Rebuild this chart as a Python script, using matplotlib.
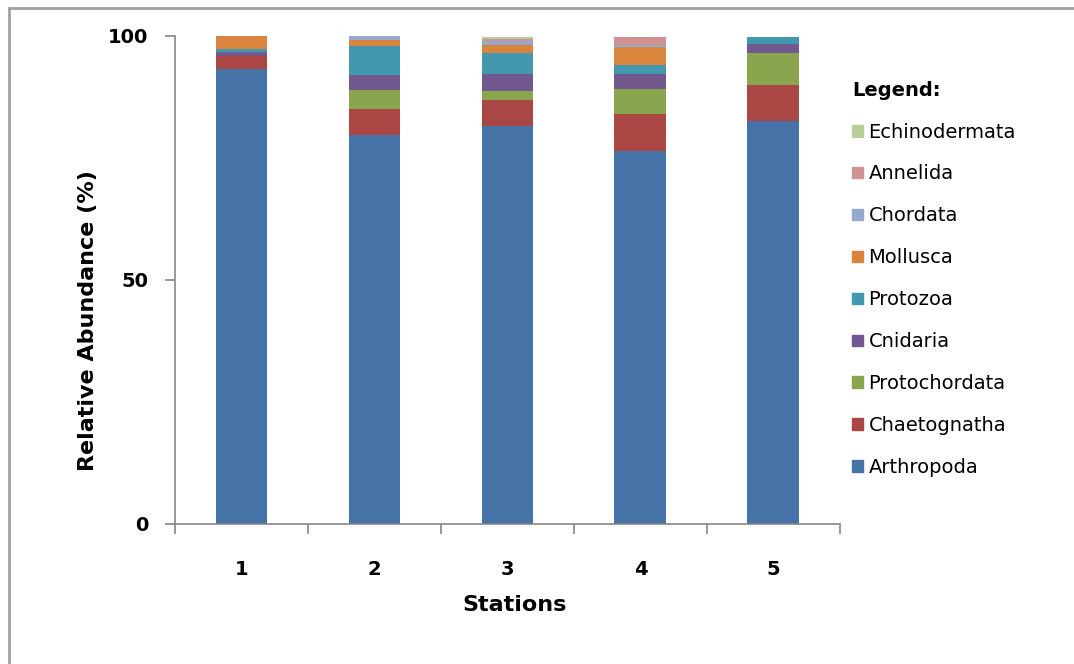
import numpy as np
import matplotlib
matplotlib.use("Agg")
from matplotlib import pyplot as plt
from matplotlib.lines import Line2D

stations = ["1", "2", "3", "4", "5"]

# relative abundance (%) per phylum, stations 1..5
arthropoda    = [93.2, 79.7, 81.5, 76.4, 82.6]
chaetognatha  = [2.7, 5.3, 5.3, 7.6, 7.4]
protochordata = [0.0, 4.0, 2.0, 5.2, 6.5]
cnidaria      = [0.7, 2.9, 3.3, 2.9, 1.8]
protozoa      = [0.7, 6.1, 4.4, 2.0, 1.5]
mollusca      = [2.7, 1.2, 1.7, 3.7, 0.0]
chordata      = [0.0, 0.8, 0.8, 0.4, 0.0]
annelida      = [0.0, 0.0, 0.4, 1.6, 0.0]
echinodermata = [0.0, 0.0, 0.4, 0.0, 0.0]

series = [
    ("Arthropoda", arthropoda, "#4572A7"),
    ("Chaetognatha", chaetognatha, "#AA4643"),
    ("Protochordata", protochordata, "#89A54E"),
    ("Cnidaria", cnidaria, "#71588F"),
    ("Protozoa", protozoa, "#4198AF"),
    ("Mollusca", mollusca, "#DB843D"),
    ("Chordata", chordata, "#93A9CF"),
    ("Annelida", annelida, "#D19392"),
    ("Echinodermata", echinodermata, "#B9CD96"),
]

fig = plt.figure(figsize=(10.74, 6.64), dpi=100)
ax = fig.add_axes([0.163, 0.211, 0.619, 0.735])

x = np.arange(1, len(stations) + 1)
bottom = np.zeros(len(stations))
handles = []
for name, vals, col in series:
    vals = np.array(vals)
    ax.bar(x, vals, width=0.39, bottom=bottom, color=col, edgecolor="none")
    bottom += vals
    handles.append(plt.Rectangle((0, 0), 1, 1, color=col, label=name))

ax.set_xlim(0.5, 5.5)
ax.set_ylim(0, 100)
ax.set_yticks([0, 50, 100])
ax.set_xticks(x)
ax.set_xticklabels(stations)
ax.set_xticks(np.arange(0.5, 6, 1), minor=True)

for side in ["top", "right"]:
    ax.spines[side].set_visible(False)
for side in ["left", "bottom"]:
    ax.spines[side].set_color("#868686")
    ax.spines[side].set_linewidth(1.2)

ax.tick_params(axis="y", direction="out", length=7, color="#868686", width=1.2,
               labelsize=14, pad=12)
ax.tick_params(axis="x", which="major", length=0, labelsize=14, pad=26)
ax.tick_params(axis="x", which="minor", direction="out", length=7,
               color="#868686", width=1.2)
for lab in ax.get_xticklabels() + ax.get_yticklabels():
    lab.set_fontweight("bold")

ax.set_ylabel("Relative Abundance (%)", fontsize=16, fontweight="bold")
ax.yaxis.set_label_coords(-0.116, 0.416)
ax.set_xlabel("Stations", fontsize=16, fontweight="bold")
ax.xaxis.set_label_coords(0.51, -0.146)

leg = fig.legend(handles=handles[::-1], loc="upper left",
                 bbox_to_anchor=(0.777, 0.905), frameon=False,
                 title="Legend:", alignment="left",
                 title_fontproperties={"weight": "bold", "size": 14},
                 fontsize=14, handlelength=0.55, handleheight=0.55,
                 handletextpad=0.3, labelspacing=1.18)

# outer chart frame
fig.add_artist(Line2D([0.0085, 1.0], [0.9885, 0.9885], transform=fig.transFigure,
                      color="#A0A0A0", linewidth=2))
fig.add_artist(Line2D([0.0085, 0.0085], [0.0, 0.9885], transform=fig.transFigure,
                      color="#A0A0A0", linewidth=2))

fig.savefig("out.png", dpi=100)
